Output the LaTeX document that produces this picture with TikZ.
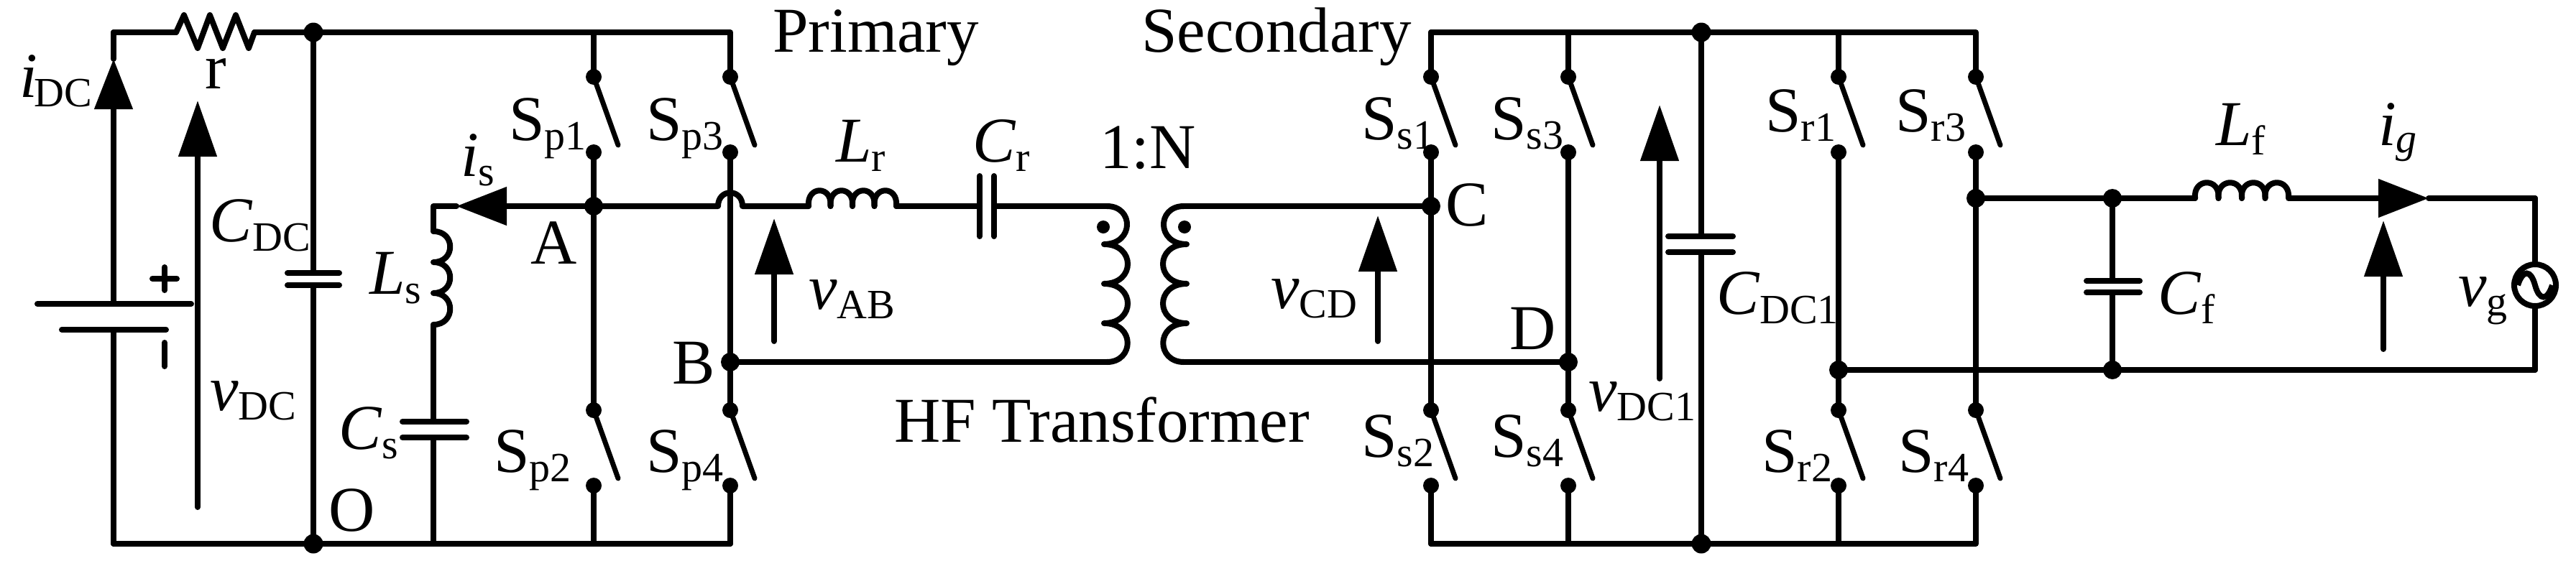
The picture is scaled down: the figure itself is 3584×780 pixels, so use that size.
\documentclass[tikz,border=0pt]{standalone}
\usepackage{fontspec}
\setmainfont{Liberation Serif}
\usetikzlibrary{arrows.meta}
\newcommand\mainfs{\fontsize{89}{92}\selectfont}
\newcommand\subfs{\fontsize{58}{60}\selectfont}
\newcommand\sbs[1]{\raisebox{-13pt}{\subfs #1}}
\newcommand\swt[2]{%
  \node[sdot] (#1a) at (#2,107) {};
  \node[sdot] (#1b) at (#2,212) {};
  \coordinate (#1f) at (#2+34,202);
  \draw[blade] (#1a.center) -- (#1f);}
\newcommand\swb[2]{%
  \node[sdot] (#1a) at (#2,571) {};
  \node[sdot] (#1b) at (#2,676) {};
  \coordinate (#1f) at (#2+34,666);
  \draw[blade] (#1a.center) -- (#1f);}
\newcommand\coilh[3]{% x, y, hump width
  \foreach \k in {0,1,2,3}{
    \draw[wire] ({#1+\k*#3},#2) .. controls ({#1+\k*#3-3},#2-29) and ({#1+(\k+1)*#3+3},#2-29) .. ({#1+(\k+1)*#3},#2);
  }}
\tikzset{
  wire/.style={line width=8pt,line cap=round,line join=round},
  blade/.style={line width=7pt,line cap=round},
  plate/.style={line width=8pt,line cap=round},
  bigdot/.style={circle,fill=black,inner sep=0pt,minimum size=27pt},
  sdot/.style={circle,fill=black,inner sep=0pt,minimum size=22pt},
  tdot/.style={circle,fill=black,inner sep=0pt,minimum size=18pt},
  txt/.style={anchor=base west,inner sep=0pt,font=\mainfs},
  arr/.style={line width=8pt,line cap=round,-{Triangle[length=78pt,width=52pt]}},
  iarr/.style={line width=8pt,-{Triangle[length=70pt,width=52pt]}},
}
\begin{document}
\begin{tikzpicture}[x=1pt,y=-1pt]
\useasboundingbox (0,0) rectangle (3584,780);
% junctions
\node[bigdot] (top1) at (436,45) {};
\node[bigdot] (bot1) at (436,757) {};
\node[sdot,minimum size=26pt] (A) at (826,287) {};
\node[sdot,minimum size=26pt] (B) at (1016,504) {};
\node[sdot,minimum size=26pt] (C) at (1991,287) {};
\node[sdot,minimum size=26pt] (D) at (2182,504) {};
\node[bigdot] (top2) at (2367,45) {};
\node[bigdot] (bot2) at (2367,757) {};
\node[sdot,minimum size=26pt] (E) at (2749,276) {};
\node[sdot,minimum size=26pt] (F) at (2558,515) {};
\node[sdot,minimum size=26pt] (G) at (2939,276) {};
\node[sdot,minimum size=26pt] (H) at (2939,515) {};
% corner coordinates
\coordinate (tl) at (158,45);
\coordinate (bl) at (158,757);
\coordinate (rA) at (245,45);
\coordinate (rB) at (354,45);
\coordinate (p1t) at (826,45);
\coordinate (p3t) at (1016,45);
\coordinate (p1g) at (826,757);
\coordinate (p3g) at (1016,757);
\coordinate (lsg) at (603,757);
\coordinate (s1t) at (1991,45);
\coordinate (s3t) at (2182,45);
\coordinate (s1g) at (1991,757);
\coordinate (s3g) at (2182,757);
\coordinate (r1t) at (2558,45);
\coordinate (r3t) at (2749,45);
\coordinate (r1g) at (2558,757);
\coordinate (r3g) at (2749,757);
% switches
\swt{p1}{826}\swb{p2}{826}
\swt{p3}{1016}\swb{p4}{1016}
\swt{s1}{1991}\swb{s2}{1991}
\swt{s3}{2182}\swb{s4}{2182}
\swt{r1}{2558}\swb{r2}{2558}
\swt{r3}{2749}\swb{r4}{2749}
% rails
\draw[wire] (rB) -- (top1.center) -- (p1t) -- (p3t) -- (p3a.center);
\draw[wire] (p1t) -- (p1a.center);
\draw[wire] (p1b.center) -- (A.center) -- (p2a.center);
\draw[wire] (p2b.center) -- (p1g);
\draw[wire] (p3b.center) -- (B.center) -- (p4a.center);
\draw[wire] (p4b.center) -- (p3g);
\draw[wire] (tl) -- (rA);
\draw[wire] (tl |- 0,82) -- (tl);
\draw[wire] (bl) -- (bot1.center) -- (lsg) -- (p1g) -- (p3g);
\draw[wire] (s1g) -- (bot2.center) -- (r3g) -- (r4b.center);
\draw[wire] (s1t) -- (top2.center) -- (r3t) -- (r3a.center);
\draw[wire] (s1t) -- (s1a.center);
\draw[wire] (s3t) -- (s3a.center);
\draw[wire] (r1t) -- (r1a.center);
\draw[wire] (s1b.center) -- (C.center) -- (s2a.center);
\draw[wire] (s2b.center) -- (s1g);
\draw[wire] (s3b.center) -- (D.center) -- (s4a.center);
\draw[wire] (s4b.center) -- (s3g);
\draw[wire] (r1b.center) -- (F.center) -- (r2a.center);
\draw[wire] (r2b.center) -- (r1g);
\draw[wire] (r3b.center) -- (E.center) -- (r4a.center);
% resistor
\draw[wire] (rA) -- (256,21) -- (275,67) -- (292,21) -- (310,67) -- (328,21) -- (346,67) -- (rB);
% battery
\coordinate (batp) at (158,423);
\coordinate (batn) at (158,459);
\coordinate (idctip) at (158,82);
\draw[plate] (52,423) -- (266,423);
\draw[plate] (86,459) -- (231,459);
\draw[wire] (batn) -- (bl);
\draw[iarr] (batp) -- (idctip);
\draw[plate] (212,388) -- (246,388);
\draw[plate] (229,372) -- (229,404);
\draw[plate] (229,477) -- (229,510);
% vDC arrow
\coordinate (vdca) at (275,706);
\coordinate (vdcb) at (275,140);
\draw[arr] (vdca) -- (vdcb);
% CDC
\coordinate (cdcu) at (436,380);
\coordinate (cdcl) at (436,397);
\draw[wire] (top1.center) -- (cdcu);
\draw[wire] (cdcl) -- (bot1.center);
\draw[plate] (400,380) -- (472,380);
\draw[plate] (400,397) -- (472,397);
% snubber branch
\coordinate (istip) at (635,287);
\coordinate (lscorner) at (603,287);
\coordinate (lsa) at (603,322);
\coordinate (lsb) at (603,452);
\coordinate (csu) at (603,587);
\coordinate (csl) at (603,609);
\draw[iarr] (A.center) -- (istip);
\draw[wire] (istip) -- (lscorner) -- (lsa);
\draw[wire] (lsa) .. controls (634,322) and (634,365) .. (603,365) .. controls (634,365) and (634,408) .. (603,408) .. controls (634,408) and (634,452) .. (lsb);
\draw[wire] (lsb) -- (csu);
\draw[wire] (csl) -- (lsg);
\draw[plate] (560,587) -- (649,587);
\draw[plate] (560,609) -- (649,609);
% resonant branch
\coordinate (jA) at (999,287);
\coordinate (jB) at (1033,287);
\coordinate (lra) at (1125,287);
\coordinate (lrb) at (1247,287);
\coordinate (cra) at (1363,287);
\coordinate (crb) at (1383,287);
\coordinate (t1a) at (1540,287);
\coordinate (t1b) at (1540,504);
\coordinate (t2a) at (1647,287);
\coordinate (t2b) at (1647,504);
\draw[wire] (A.center) -- (jA) .. controls (999,262) and (1033,262) .. (jB) -- (lra);
\coilh{1125}{287}{30.5}
\draw[wire] (lrb) -- (cra);
\draw[plate] (1363,245) -- (1363,329);
\draw[plate] (1383,245) -- (1383,329);
\draw[wire] (crb) -- (t1a);
% transformer
\draw[wire] (t1a) .. controls (1578,287) and (1578,340) .. (1536,340) .. controls (1580,340) and (1580,395) .. (1536,395) .. controls (1580,395) and (1580,450) .. (1536,450) .. controls (1580,450) and (1578,504) .. (t1b);
\draw[wire] (t2a) .. controls (1609,287) and (1609,340) .. (1651,340) .. controls (1607,340) and (1607,395) .. (1651,395) .. controls (1607,395) and (1607,450) .. (1651,450) .. controls (1607,450) and (1609,504) .. (t2b);
\node[tdot] (tdA) at (1535,316) {};
\node[tdot] (tdB) at (1648,316) {};
\draw[wire] (B.center) -- (t1b);
\draw[wire] (t2a) -- (C.center);
\draw[wire] (t2b) -- (D.center);
% vAB, vCD
\coordinate (vaba) at (1077,475);
\coordinate (vabb) at (1077,304);
\draw[arr] (vaba) -- (vabb);
\coordinate (vcda) at (1917,475);
\coordinate (vcdb) at (1917,300);
\draw[arr] (vcda) -- (vcdb);
% DC link 2
\coordinate (c1u) at (2367,329);
\coordinate (c1l) at (2367,351);
\draw[wire] (top2.center) -- (c1u);
\draw[wire] (c1l) -- (bot2.center);
\draw[plate] (2321,329) -- (2411,329);
\draw[plate] (2321,351) -- (2411,351);
\coordinate (v1a) at (2309,527);
\coordinate (v1b) at (2309,146);
\draw[arr] (v1a) -- (v1b);
% output filter
\coordinate (lfa) at (3054,276);
\coordinate (lfb) at (3184,276);
\coordinate (igtip) at (3379,276);
\coordinate (oc1) at (3527,276);
\coordinate (oc2) at (3527,515);
\coordinate (cfu) at (2939,391);
\coordinate (cfl) at (2939,407);
\draw[wire] (E.center) -- (G.center) -- (lfa);
\coilh{3054}{276}{32.5}
\draw[iarr] (lfb) -- (igtip);
\draw[wire] (igtip) -- (oc1);
\draw[wire] (F.center) -- (H.center) -- (oc2);
\draw[wire] (G.center) -- (cfu);
\draw[wire] (cfl) -- (H.center);
\draw[plate] (2903,391) -- (2977,391);
\draw[plate] (2903,407) -- (2977,407);
\node[circle,draw=black,line width=8pt,fill=white,inner sep=0pt,minimum size=58pt] (src) at (3527,397) {};
\draw[wire] (oc1) -- (src.north);
\draw[wire] (src.south) -- (oc2);
\draw[line width=8pt] (3503,397) .. controls (3510,375) and (3521,375) .. (3527,397) .. controls (3533,419) and (3544,419) .. (3551,397);
\coordinate (vga) at (3316,486);
\coordinate (vgb) at (3316,307);
\draw[arr] (vga) -- (vgb);
% labels
\node[txt] (lidc) at (27,135) {\textit{i}\hspace{-4pt}\sbs{DC}};
\node[txt] (lr) at (285,123) {r};
\node[txt] (lcdc) at (291,336) {\textit{C}\sbs{DC}};
\node[txt] (lvdc) at (292,571) {\textit{v}\sbs{DC}};
\node[txt] (lls) at (514,409) {\textit{L}\sbs{s}};
\node[txt] (lis) at (641,245) {\textit{i}\sbs{s}};
\node[txt] (la) at (738,367) {A};
\node[txt] (lb) at (935,534) {B};
\node[txt] (lo) at (457,739) {O};
\node[txt] (lcs) at (471,625) {\textit{C}\sbs{s}};
\node[txt] (lsp1) at (708,195) {S\sbs{p1}};
\node[txt] (lsp3) at (899,195) {S\sbs{p3}};
\node[txt] (lsp2) at (687,657) {S\sbs{p2}};
\node[txt] (lsp4) at (899,657) {S\sbs{p4}};
\node[txt] (lvab) at (1125,430) {\textit{v}\sbs{AB}};
\node[txt] (lprim) at (1075,72) {Primary};
\node[txt] (lsec) at (1588,72) {Secondary};
\node[txt] (llr) at (1163,225) {\textit{L}\sbs{r}};
\node[txt] (lcr) at (1353,225) {\textit{C}\sbs{r}};
\node[txt] (ln) at (1530,234) {1:N};
\node[txt] (lhf) at (1244,615) {HF Transformer};
\node[txt] (lvcd) at (1768,429) {\textit{v}\sbs{CD}};
\node[txt] (lc) at (2011,314) {C};
\node[txt] (ld) at (2100,486) {D};
\node[txt] (lss1) at (1894,194) {S\sbs{s1}};
\node[txt] (lss3) at (2074,194) {S\sbs{s3}};
\node[txt] (lss2) at (1894,636) {S\sbs{s2}};
\node[txt] (lss4) at (2074,636) {S\sbs{s4}};
\node[txt] (lvd1) at (2210,572) {\textit{v}\sbs{DC1}};
\node[txt] (lcd1) at (2388,437) {\textit{C}\sbs{DC1}};
\node[txt] (lsr1) at (2456,183) {S\sbs{r1}};
\node[txt] (lsr3) at (2637,183) {S\sbs{r3}};
\node[txt] (lsr2) at (2451,657) {S\sbs{r2}};
\node[txt] (lsr4) at (2641,657) {S\sbs{r4}};
\node[txt] (llf) at (3083,202) {\textit{L}\sbs{f}};
\node[txt] (lig) at (3309,202) {\textit{i}\raisebox{-10pt}{\subfs\textit{g}}};
\node[txt] (lcf) at (3002,437) {\textit{C}\sbs{f}};
\node[txt] (lvg) at (3420,426) {\textit{v}\sbs{g}};
\end{tikzpicture}
\end{document}
